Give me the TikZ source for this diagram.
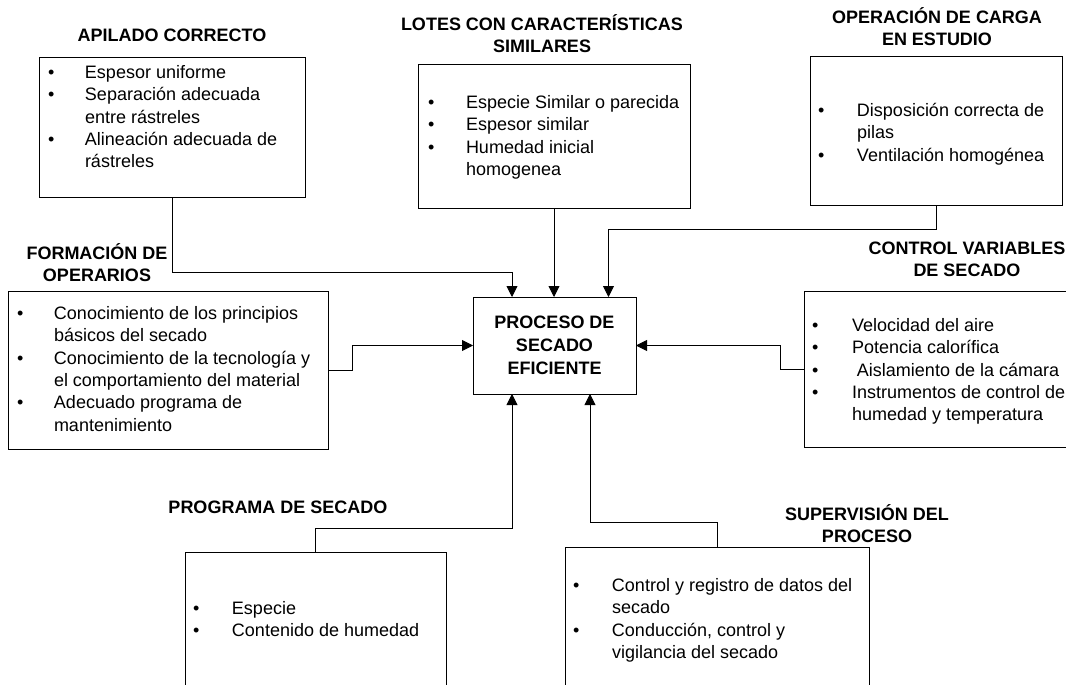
\documentclass[tikz,border=0pt]{standalone}
\usepackage{fontspec}
\setmainfont{Liberation Sans}
\usetikzlibrary{arrows.meta}
\begin{document}
\begin{tikzpicture}[x=1pt,y=-1pt,
  every node/.style={inner sep=0pt,outer sep=0pt},
  boxstyle/.style={draw=black,line width=0.9pt,anchor=north west},
  title/.style={font=\fontsize{18}{22.3}\selectfont\bfseries,align=center},
  list/.style={font=\fontsize{18}{22.3}\selectfont,anchor=base west},
  conn/.style={draw=black,line width=0.9pt},
  arr/.style={conn,-{Triangle[length=11pt,width=11pt]}}]

\fill[white] (0,0) rectangle (1066,685);
\useasboundingbox (0,0) rectangle (1066,685);

% central process box
\node[draw=black,line width=0.9pt,minimum width=163pt,minimum height=97pt,
  font=\fontsize{18}{23}\selectfont\bfseries,align=center]
  (proceso) at (554.5,345.5) {PROCESO DE\\SECADO\\EFICIENTE};

% surrounding boxes
\node[boxstyle,minimum width=266pt,minimum height=140pt] (apilado) at (39,57) {};
\node[boxstyle,minimum width=272pt,minimum height=144pt] (lotes) at (418,64) {};
\node[boxstyle,minimum width=252pt,minimum height=149pt] (operacion) at (810,56) {};
\node[boxstyle,minimum width=320pt,minimum height=158pt] (formacion) at (8,291) {};
\node[boxstyle,minimum width=290pt,minimum height=156pt] (control) at (804,291) {};
\node[boxstyle,minimum width=261pt,minimum height=150pt] (programa) at (185,552) {};
\node[boxstyle,minimum width=304pt,minimum height=160pt] (supervision) at (565,547) {};

% titles
\node[title] (tApilado) at (172,35) {APILADO CORRECTO};
\node[title] (tLotes) at (542,33.5) {LOTES CON CARACTERÍSTICAS\\SIMILARES};
\node[title] (tOperacion) at (937,26.5) {OPERACIÓN DE CARGA\\EN ESTUDIO};
\node[title] (tFormacion) at (97,262.5) {FORMACIÓN DE\\OPERARIOS};
\node[title] (tControl) at (967,259.2) {CONTROL VARIABLES\\DE SECADO};
\node[title] (tPrograma) at (278,507) {PROGRAMA DE SECADO};
\node[title] (tSupervision) at (867,523.5) {SUPERVISIÓN DEL\\PROCESO};

% bullet lists
\node[list] (lApilado) at (48,78.5) {\begin{tabular}[t]{@{}p{37pt}@{}l@{}}
\textbullet & Espesor uniforme\\
\textbullet & Separación adecuada\\
 & entre rástreles\\
\textbullet & Alineación adecuada de\\
 & rástreles
\end{tabular}};

\node[list] (lLotes) at (428,108.5) {\begin{tabular}[t]{@{}p{38pt}@{}l@{}}
\textbullet & Especie Similar o parecida\\
\textbullet & Espesor similar\\
\textbullet & Humedad inicial\\
 & homogenea
\end{tabular}};

\node[list] (lOperacion) at (818,116.5) {\begin{tabular}[t]{@{}p{39pt}@{}l@{}}
\textbullet & Disposición correcta de\\
 & pilas\\
\textbullet & Ventilación homogénea
\end{tabular}};

\node[list] (lFormacion) at (17,319.5) {\begin{tabular}[t]{@{}p{37pt}@{}l@{}}
\textbullet & Conocimiento de los principios\\
 & básicos del secado\\
\textbullet & Conocimiento de la tecnología y\\
 & el comportamiento del material\\
\textbullet & Adecuado programa de\\
 & mantenimiento
\end{tabular}};

\node[list] (lControl) at (812,331.5) {\begin{tabular}[t]{@{}p{40pt}@{}l@{}}
\textbullet & Velocidad del aire\\
\textbullet & Potencia calorífica\\
\textbullet & \hspace{5pt}Aislamiento de la cámara\\
\textbullet & Instrumentos de control de\\
 & humedad y temperatura
\end{tabular}};

\node[list] (lPrograma) at (193,614.5) {\begin{tabular}[t]{@{}p{39pt}@{}l@{}}
\textbullet & Especie\\
\textbullet & Contenido de humedad
\end{tabular}};

\node[list] (lSupervision) at (573,591.5) {\begin{tabular}[t]{@{}p{39pt}@{}l@{}}
\textbullet & Control y registro de datos del\\
 & secado\\
\textbullet & Conducción, control y\\
 & vigilancia del secado
\end{tabular}};

% connectors into the central box
\draw[arr] (apilado.south) -- ++(0,75) -| ([xshift=-42.5pt]proceso.north);
\draw[arr] (lotes.south) -- (lotes.south |- proceso.north);
\draw[arr] (operacion.south) -- ++(0,24) -| ([xshift=54pt]proceso.north);
\draw[arr] (formacion.east) -- ++(24,0) |- (proceso.west);
\draw[arr] (control.west) -- ++(-24,0) |- (proceso.east);
\draw[arr] (programa.north) -- ++(0,-24) -| ([xshift=-42.5pt]proceso.south);
\draw[arr] (supervision.north) -- ++(0,-25) -| ([xshift=35.5pt]proceso.south);

\end{tikzpicture}
\end{document}
